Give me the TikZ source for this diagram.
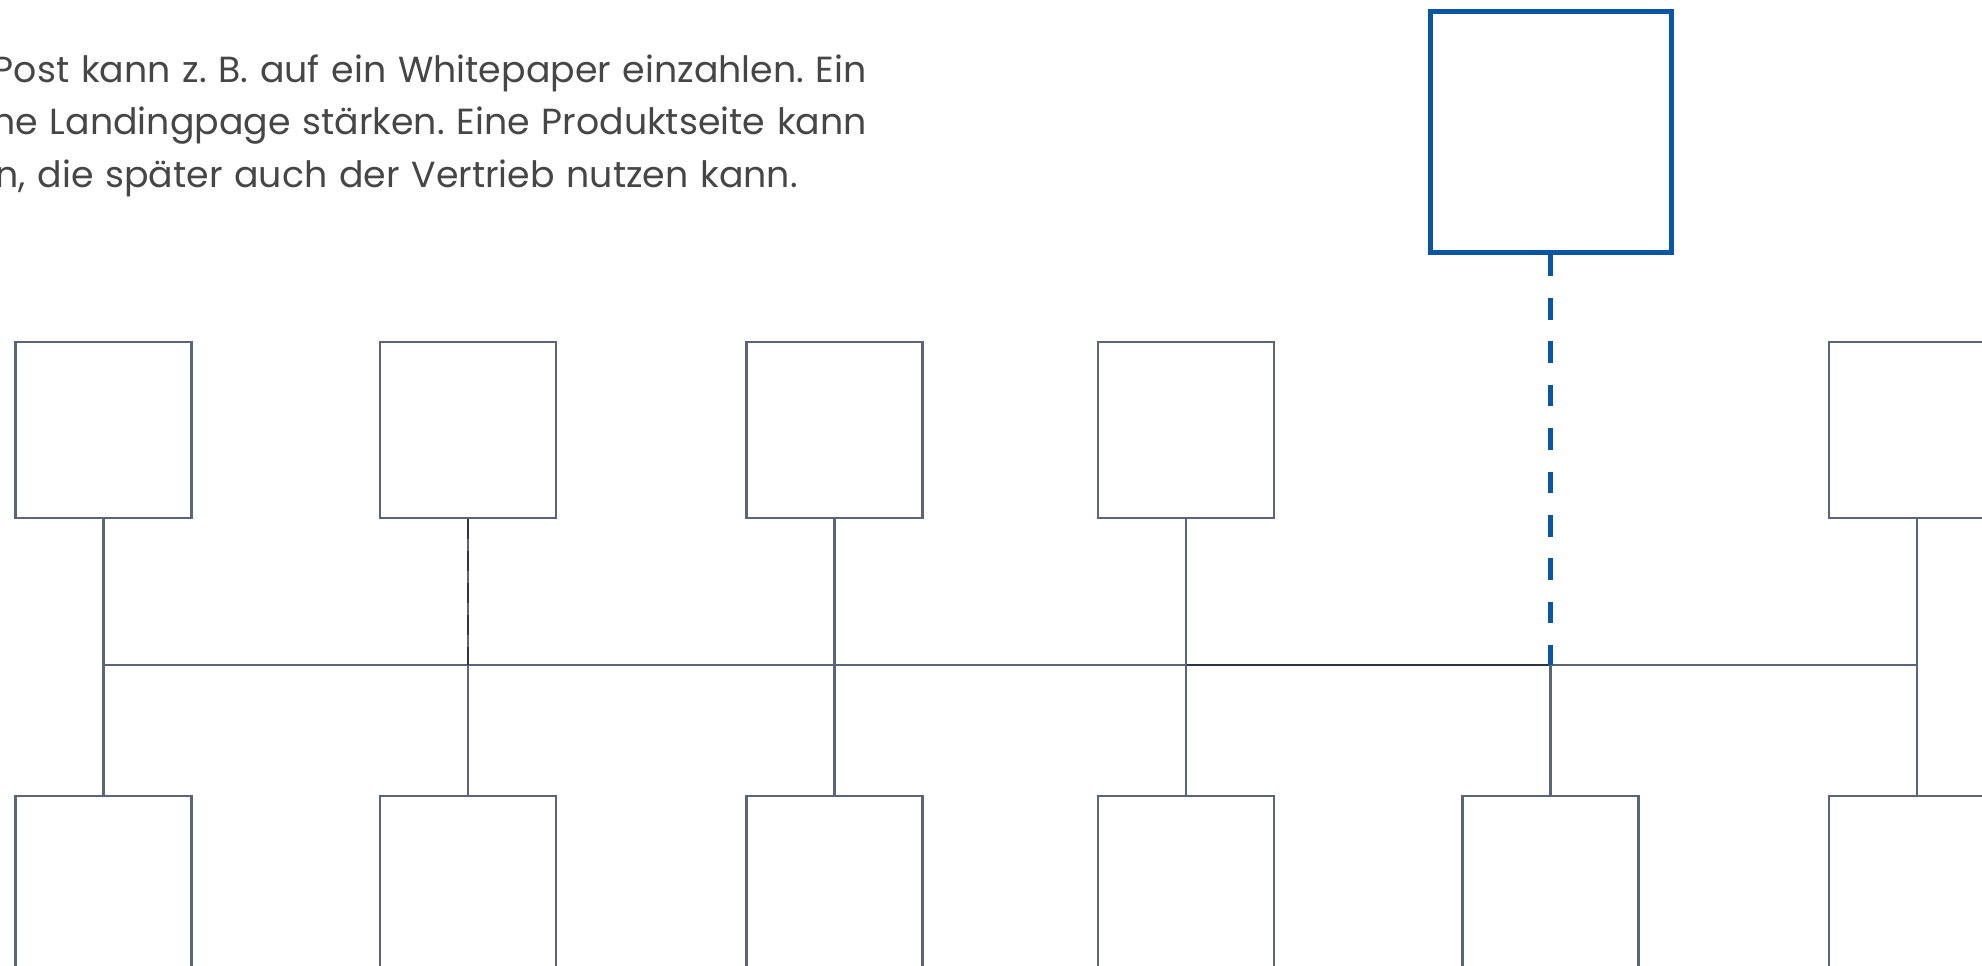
\documentclass[tikz,border=0pt]{standalone}
\usepackage{fontspec}
\setmainfont{Poppins}
\definecolor{slate}{HTML}{5B6579}
\definecolor{darkslate}{HTML}{2B3547}
\definecolor{brandblue}{HTML}{0A56A5}
\definecolor{txt}{HTML}{464646}
\newcommand{\paratext}{\fontsize{36.3}{40}\selectfont\frenchspacing\spaceskip=11.8pt plus 0pt minus 0pt\relax}
\begin{document}
\begin{tikzpicture}[x=1pt,y=-1pt,
  card/.style={draw=slate,line width=2.5pt,minimum width=176pt,minimum height=176pt,inner sep=0pt,fill=white},
  hubbox/.style={draw=brandblue,line width=5pt,minimum width=241pt,minimum height=240pt,inner sep=0pt},
  wire/.style={draw=slate,line width=2.5pt},
  darkwire/.style={draw=darkslate,line width=2.5pt},
  bluedash/.style={draw=brandblue,line width=5pt,dash pattern=on 21.7pt off 21.7pt},
  para/.style={font=\paratext,text=txt,inner sep=0pt}]
\useasboundingbox (0,0) rectangle (1982,966);
\begin{scope}
\clip (0,0) rectangle (1982,966);
% text
\node[para,anchor=base east] (l1) at (867,82) {Post kann z. B. auf ein Whitepaper einzahlen. Ein};
\node[para,anchor=base east] (l2) at (867,134) {ne Landingpage stärken. Eine Produktseite kann};
\node[para,anchor=base east] (l3) at (798,187) {n, die später auch der Vertrieb nutzen kann.};
% boxes
\node[hubbox] (hub) at (1550.5,132) {};
\node[card] (t1) at (103.5,430) {};
\node[card] (t2) at (468,430) {};
\node[card] (t3) at (834.5,430) {};
\node[card] (t4) at (1186,430) {};
\node[card] (t6) at (1917,430) {};
\node[card] (b1) at (103.5,884) {};
\node[card] (b2) at (468,884) {};
\node[card] (b3) at (834.5,884) {};
\node[card] (b4) at (1186,884) {};
\node[card] (b5) at (1550.5,884) {};
\node[card] (b6) at (1917,884) {};
% bus junctions
\coordinate (j1) at (103.5,665);
\coordinate (j2) at (468,665);
\coordinate (j3) at (834.5,665);
\coordinate (j4) at (1186,665);
\coordinate (j5) at (1550.5,665);
\coordinate (j6) at (1917,665);
% connectors
\draw[wire] (j1) -- (j6);
\draw[darkwire] (j4) -- (j5);
\foreach \i in {1,2,3,4,6} {\draw[wire] (t\i.south) -- (b\i.north);}
\draw[wire] (j5) -- (b5.north);
\draw[darkslate,line width=2pt,dash pattern=on 20pt off 12pt] (t2.south) -- (j2);
\draw[bluedash] (hub.south) -- (j5);
\end{scope}
\end{tikzpicture}
\end{document}
